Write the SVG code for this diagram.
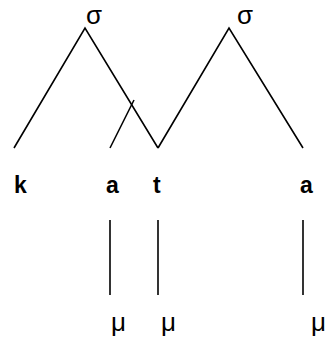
<svg xmlns="http://www.w3.org/2000/svg" width="328" height="343" viewBox="0 0 328 343">
  <style>
    .ln { stroke: #000; stroke-width: 1.6; fill: none; }
    .sym { font-family: "Liberation Sans", Arial, sans-serif; font-size: 26px; fill: #000; }
    .mu { font-family: "Liberation Sans", Arial, sans-serif; font-size: 26px; fill: #000; }
    .seg { font-family: "Liberation Sans", Arial, sans-serif; font-size: 23px; font-weight: bold; fill: #000; }
  </style>
  <rect width="328" height="343" fill="#fff"/>
  <g id="connectors">
    <!-- first syllable -->
    <path class="ln" d="M14,148 L85,28 L158,148"/>
    <!-- second syllable -->
    <path class="ln" d="M158,148 L229,28 L303,148"/>
    <!-- crossing association line from a -->
    <path class="ln" d="M110,148 L134,100"/>
    <!-- mora links -->
    <path class="ln" d="M110,220 L110,295"/>
    <path class="ln" d="M158,220 L158,295"/>
    <path class="ln" d="M303,220 L303,295"/>
  </g>
  <g id="sigma1"><text class="sym" x="86" y="24">σ</text></g>
  <g id="sigma2"><text class="sym" x="237" y="24">σ</text></g>
  <g id="seg-k"><text class="seg" x="14" y="193">k</text></g>
  <g id="seg-a1"><text class="seg" x="106" y="193">a</text></g>
  <g id="seg-t"><text class="seg" x="153" y="193">t</text></g>
  <g id="seg-a2"><text class="seg" x="300" y="193">a</text></g>
  <g id="mu1"><text class="mu" x="111" y="331">μ</text></g>
  <g id="mu2"><text class="mu" x="161" y="331">μ</text></g>
  <g id="mu3"><text class="mu" x="311" y="331">μ</text></g>
</svg>
